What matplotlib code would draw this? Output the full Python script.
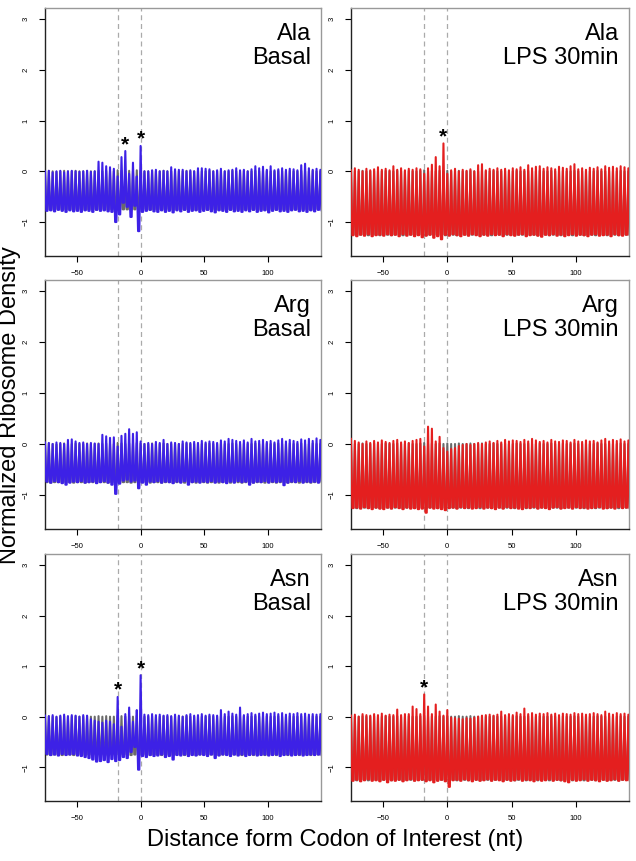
import numpy as np
import matplotlib.pyplot as plt

plt.rcParams['font.family'] = ['Liberation Sans', 'DejaVu Sans']

# first codon position (nt) of every trace, one peak every 3 nt
first_nt = -75

# background (all codons) traces, one for each condition
grey_basal_peaks = [0.00, 0.01, 0.00, -0.01, 0.00, 0.01, 0.00, 0.00, 0.01, 0.00,
                    0.00, 0.01, 0.00, 0.00, 0.01, 0.00, 0.01, 0.00, 0.00, 0.02,
                    0.01, 0.00, 0.01, 0.00, 0.02, 0.01, 0.00, 0.00, 0.01, 0.00,
                    0.00, 0.01, 0.00, 0.00, 0.01, 0.00, 0.00, 0.01, 0.00, 0.00,
                    0.01, 0.00, 0.00, 0.01, 0.00, 0.00, 0.01, 0.00, 0.00, 0.01,
                    0.00, 0.00, 0.01, 0.00, 0.00, 0.01, 0.00, 0.00, 0.01, 0.00,
                    0.00, 0.01, 0.00, 0.00, 0.01, 0.00, 0.00, 0.01, 0.00, 0.00,
                    0.01, 0.00, 0.00]
grey_basal_troughs = [-0.75, -0.76, -0.75, -0.75, -0.76, -0.75, -0.75, -0.76, -0.75, -0.75,
                      -0.76, -0.75, -0.75, -0.76, -0.75, -0.75, -0.76, -0.75, -0.75, -0.76,
                      -0.75, -0.75, -0.76, -0.75, -0.76, -0.75, -0.75, -0.76, -0.75, -0.75,
                      -0.76, -0.75, -0.75, -0.76, -0.75, -0.75, -0.76, -0.75, -0.75, -0.76,
                      -0.75, -0.75, -0.76, -0.75, -0.75, -0.76, -0.75, -0.75, -0.76, -0.75,
                      -0.75, -0.76, -0.75, -0.75, -0.76, -0.75, -0.75, -0.76, -0.75, -0.75,
                      -0.76, -0.75, -0.75, -0.76, -0.75, -0.75, -0.76, -0.75, -0.75, -0.76,
                      -0.75, -0.75, -0.76]
grey_lps_peaks = [0.01, 0.00, 0.00, 0.01, 0.00, 0.00, 0.01, 0.00, 0.00, 0.01,
                  0.00, 0.00, 0.01, 0.00, 0.00, 0.01, 0.00, 0.00, 0.01, 0.02,
                  0.00, 0.01, 0.00, 0.01, 0.00, 0.01, 0.00, 0.00, 0.01, 0.00,
                  0.00, 0.01, 0.00, 0.00, 0.01, 0.00, 0.00, 0.01, 0.00, 0.00,
                  0.01, 0.00, 0.00, 0.01, 0.00, 0.00, 0.01, 0.00, 0.00, 0.01,
                  0.00, 0.00, 0.01, 0.00, 0.00, 0.01, 0.00, 0.00, 0.01, 0.00,
                  0.00, 0.01, 0.00, 0.00, 0.01, 0.00, 0.00, 0.01, 0.00, 0.00,
                  0.01, 0.00, 0.00]
grey_lps_troughs = [-1.25, -1.26, -1.25, -1.25, -1.26, -1.25, -1.25, -1.26, -1.25, -1.25,
                    -1.26, -1.25, -1.25, -1.26, -1.25, -1.25, -1.26, -1.25, -1.25, -1.26,
                    -1.25, -1.25, -1.26, -1.25, -1.26, -1.25, -1.25, -1.26, -1.25, -1.25,
                    -1.26, -1.25, -1.25, -1.26, -1.25, -1.25, -1.26, -1.25, -1.25, -1.26,
                    -1.25, -1.25, -1.26, -1.25, -1.25, -1.26, -1.25, -1.25, -1.26, -1.25,
                    -1.25, -1.26, -1.25, -1.25, -1.26, -1.25, -1.25, -1.26, -1.25, -1.25,
                    -1.26, -1.25, -1.25, -1.26, -1.25, -1.25, -1.26, -1.25, -1.25, -1.26,
                    -1.25, -1.25, -1.26]

# Ala
ala_basal_peaks = [0.00, 0.01, -0.02, 0.00, 0.01, -0.02, 0.00, 0.01, 0.00, -0.01,
                   0.00, 0.01, -0.01, 0.00, 0.19, 0.17, 0.10, 0.08, 0.05, -0.10,
                   0.28, 0.40, -0.05, 0.17, -0.10, 0.50, 0.00, 0.00, 0.02, 0.03,
                   0.00, 0.01, 0.00, 0.08, 0.04, 0.03, 0.03, 0.00, 0.02, 0.00,
                   0.06, 0.06, 0.05, 0.04, 0.00, 0.02, 0.05, 0.00, 0.02, 0.03,
                   0.06, 0.02, 0.03, 0.00, 0.04, 0.10, 0.06, 0.09, 0.03, 0.10,
                   0.02, 0.04, 0.06, 0.03, 0.05, 0.04, 0.02, 0.12, 0.15, 0.06,
                   0.03, 0.05, 0.03]
ala_basal_troughs = [-0.78, -0.77, -0.79, -0.76, -0.78, -0.80, -0.77, -0.79, -0.78, -0.80,
                     -0.77, -0.78, -0.80, -0.76, -0.78, -0.77, -0.79, -0.80, -1.00, -0.85,
                     -0.62, -0.70, -0.90, -0.68, -1.18, -0.80, -0.78, -0.76, -0.79, -0.80,
                     -0.77, -0.80, -0.78, -0.81, -0.77, -0.79, -0.76, -0.80, -0.78, -0.77,
                     -0.80, -0.78, -0.76, -0.79, -0.81, -0.77, -0.78, -0.80, -0.76, -0.79,
                     -0.78, -0.80, -0.77, -0.79, -0.76, -0.80, -0.78, -0.77, -0.81, -0.78,
                     -0.76, -0.79, -0.78, -0.80, -0.77, -0.76, -0.79, -0.78, -0.80, -0.77,
                     -0.79, -0.76, -0.78]
ala_lps_peaks = [0.02, 0.06, 0.03, 0.00, 0.05, 0.02, 0.04, 0.08, 0.03, 0.05,
                 0.02, 0.10, 0.03, 0.06, 0.02, 0.05, 0.03, 0.06, 0.04, -0.05,
                 0.06, 0.13, 0.28, 0.10, 0.55, -0.05, 0.02, 0.05, 0.00, 0.03,
                 0.01, 0.04, 0.00, 0.12, 0.14, 0.02, 0.05, 0.03, 0.06, 0.03,
                 0.05, 0.02, 0.06, 0.04, 0.08, 0.03, 0.12, 0.06, 0.09, 0.10,
                 0.05, 0.08, 0.06, 0.04, 0.09, 0.07, 0.05, 0.10, 0.14, 0.04,
                 0.06, 0.03, 0.07, 0.05, 0.08, 0.04, 0.10, 0.07, 0.09, 0.06,
                 0.10, 0.08, 0.06]
ala_lps_troughs = [-1.26, -1.28, -1.25, -1.27, -1.24, -1.28, -1.26, -1.25, -1.27, -1.24,
                   -1.26, -1.25, -1.28, -1.24, -1.27, -1.25, -1.28, -1.26, -1.30, -1.27,
                   -1.25, -1.31, -1.28, -1.34, -1.25, -1.27, -1.24, -1.26, -1.28, -1.25,
                   -1.27, -1.24, -1.26, -1.28, -1.25, -1.27, -1.24, -1.26, -1.25, -1.28,
                   -1.24, -1.26, -1.27, -1.25, -1.24, -1.28, -1.26, -1.25, -1.27, -1.29,
                   -1.25, -1.26, -1.24, -1.27, -1.25, -1.28, -1.26, -1.24, -1.27, -1.25,
                   -1.26, -1.28, -1.25, -1.24, -1.27, -1.26, -1.25, -1.28, -1.24, -1.26,
                   -1.27, -1.25, -1.26]

# Arg
arg_basal_peaks = [0.03, 0.02, 0.00, 0.03, 0.02, 0.00, 0.08, 0.09, 0.05, 0.02,
                   0.03, 0.00, 0.02, 0.01, 0.00, 0.18, 0.15, 0.12, 0.13, -0.05,
                   0.16, 0.20, 0.29, 0.20, 0.23, 0.05, 0.00, 0.02, 0.00, 0.04,
                   0.02, 0.08, 0.00, 0.03, 0.02, 0.00, 0.05, 0.03, 0.02, 0.04,
                   0.02, 0.06, 0.03, 0.05, 0.04, 0.02, 0.07, 0.05, 0.10, 0.08,
                   0.06, 0.04, 0.07, 0.03, 0.10, 0.05, 0.06, 0.08, 0.04, 0.06,
                   0.03, 0.07, 0.10, 0.05, 0.08, 0.06, 0.04, 0.09, 0.07, 0.10,
                   0.06, 0.11, 0.08]
arg_basal_troughs = [-0.74, -0.76, -0.73, -0.75, -0.77, -0.80, -0.76, -0.74, -0.75, -0.73,
                     -0.76, -0.75, -0.74, -0.77, -0.75, -0.73, -0.76, -0.80, -0.98, -0.78,
                     -0.72, -0.70, -0.74, -0.72, -0.87, -0.76, -0.80, -0.74, -0.75, -0.73,
                     -0.76, -0.74, -0.75, -0.77, -0.74, -0.76, -0.73, -0.80, -0.75, -0.74,
                     -0.76, -0.74, -0.75, -0.73, -0.76, -0.74, -0.75, -0.77, -0.74, -0.76,
                     -0.73, -0.75, -0.74, -0.80, -0.76, -0.74, -0.75, -0.73, -0.76, -0.74,
                     -0.75, -0.74, -0.81, -0.76, -0.74, -0.75, -0.73, -0.76, -0.74, -0.75,
                     -0.74, -0.76, -0.73]
arg_lps_peaks = [0.10, 0.06, 0.03, 0.00, 0.05, 0.02, 0.06, 0.03, 0.07, 0.04,
                 0.02, 0.06, 0.08, 0.03, 0.05, 0.02, 0.06, 0.08, 0.10, -0.05,
                 0.34, 0.30, 0.05, 0.14, -0.08, -0.15, -0.10, -0.08, -0.04, -0.02,
                 0.00, -0.02, 0.00, 0.02, 0.00, 0.03, 0.05, 0.02, 0.06, 0.03,
                 0.08, 0.05, 0.07, 0.06, 0.04, 0.08, 0.05, 0.10, 0.07, 0.04,
                 0.06, 0.03, 0.08, 0.05, 0.04, 0.07, 0.06, 0.03, 0.08, 0.05,
                 0.04, 0.07, 0.05, 0.06, 0.03, 0.07, 0.10, 0.05, 0.08, 0.06,
                 0.09, 0.05, 0.07]
arg_lps_troughs = [-1.26, -1.25, -1.27, -1.24, -1.26, -1.28, -1.25, -1.27, -1.28, -1.25,
                   -1.27, -1.24, -1.26, -1.28, -1.25, -1.27, -1.26, -1.28, -1.27, -1.35,
                   -1.25, -1.27, -1.26, -1.28, -1.30, -1.26, -1.25, -1.27, -1.24, -1.26,
                   -1.25, -1.27, -1.26, -1.24, -1.27, -1.25, -1.26, -1.28, -1.25, -1.27,
                   -1.24, -1.26, -1.25, -1.27, -1.28, -1.25, -1.26, -1.24, -1.27, -1.25,
                   -1.26, -1.28, -1.25, -1.24, -1.27, -1.26, -1.25, -1.27, -1.24, -1.26,
                   -1.25, -1.27, -1.26, -1.25, -1.24, -1.27, -1.26, -1.25, -1.27, -1.24,
                   -1.26, -1.25, -1.27]

# Asn
asn_basal_peaks = [0.02, 0.01, 0.03, 0.00, 0.02, 0.04, 0.01, 0.03, 0.02, 0.00,
                   0.03, 0.02, -0.05, -0.08, -0.10, -0.12, -0.08, -0.10, -0.15, 0.39,
                   -0.20, 0.05, 0.18, -0.10, 0.13, 0.82, 0.04, 0.03, 0.05, 0.03,
                   0.04, 0.02, 0.03, 0.01, 0.04, 0.02, 0.00, 0.03, 0.05, 0.02,
                   0.03, 0.05, 0.02, 0.04, 0.03, 0.02, 0.13, 0.05, 0.10, 0.06,
                   0.04, 0.18, 0.03, 0.05, 0.07, 0.04, 0.06, 0.08, 0.05, 0.06,
                   0.08, 0.05, 0.07, 0.04, 0.06, 0.05, 0.07, 0.05, 0.06, 0.04,
                   0.05, 0.04, 0.05]
asn_basal_troughs = [-0.74, -0.76, -0.75, -0.77, -0.74, -0.76, -0.75, -0.74, -0.77, -0.78,
                     -0.80, -0.82, -0.85, -0.89, -0.88, -0.86, -0.90, -0.84, -0.88, -0.86,
                     -0.80, -0.82, -0.70, -0.60, -1.05, -0.78, -0.80, -0.76, -0.78, -0.77,
                     -0.75, -0.80, -0.78, -0.85, -0.76, -0.77, -0.75, -0.78, -0.76, -0.77,
                     -0.75, -0.76, -0.78, -0.75, -0.82, -0.77, -0.75, -0.76, -0.78, -0.75,
                     -0.77, -0.75, -0.78, -0.76, -0.75, -0.77, -0.76, -0.75, -0.77, -0.76,
                     -0.75, -0.78, -0.76, -0.75, -0.77, -0.76, -0.75, -0.77, -0.76, -0.75,
                     -0.76, -0.75, -0.77]
asn_lps_peaks = [0.02, 0.04, 0.00, 0.05, 0.03, 0.02, 0.05, 0.03, 0.06, 0.02,
                 0.04, 0.03, 0.14, 0.03, 0.05, 0.05, 0.20, 0.15, 0.05, 0.44,
                 0.20, 0.05, 0.24, 0.10, 0.02, 0.13, -0.02, -0.03, -0.04, -0.05,
                 -0.03, -0.04, -0.02, 0.00, 0.02, 0.03, 0.04, 0.02, 0.04, 0.10,
                 0.03, 0.05, 0.03, 0.08, 0.05, 0.16, 0.05, 0.07, 0.04, 0.06,
                 0.05, 0.07, 0.04, 0.06, 0.03, 0.06, 0.05, 0.04, 0.07, 0.05,
                 0.06, 0.04, 0.05, 0.07, 0.05, 0.03, 0.10, 0.06, 0.04, 0.07,
                 0.05, 0.06, 0.04]
asn_lps_troughs = [-1.27, -1.25, -1.28, -1.26, -1.24, -1.27, -1.26, -1.28, -1.25, -1.30,
                   -1.26, -1.27, -1.25, -1.28, -1.26, -1.24, -1.27, -1.26, -1.25, -1.28,
                   -1.26, -1.30, -1.27, -1.25, -1.28, -1.39, -1.26, -1.25, -1.27, -1.24,
                   -1.26, -1.28, -1.25, -1.27, -1.26, -1.24, -1.27, -1.25, -1.26, -1.28,
                   -1.25, -1.27, -1.26, -1.24, -1.27, -1.25, -1.26, -1.28, -1.25, -1.27,
                   -1.26, -1.24, -1.27, -1.25, -1.26, -1.28, -1.30, -1.25, -1.27, -1.26,
                   -1.24, -1.27, -1.25, -1.26, -1.28, -1.25, -1.27, -1.26, -1.24, -1.27,
                   -1.25, -1.26, -1.27]

# starred peaks (nt position)
ala_basal_stars = [-12, 0]
ala_lps_stars = [-3]
asn_basal_stars = [-18, 0]
asn_lps_stars = [-18]

amino_acids = ['Ala', 'Arg', 'Asn']
conditions = ['Basal', 'LPS 30min']
x_ticks = [-50, 0, 50, 100]
y_ticks = [-1, 0, 1, 2, 3]
site_lines = [-18, 0]

panels = {
    ('Ala', 'Basal'): (ala_basal_peaks, ala_basal_troughs, ala_basal_stars),
    ('Ala', 'LPS 30min'): (ala_lps_peaks, ala_lps_troughs, ala_lps_stars),
    ('Arg', 'Basal'): (arg_basal_peaks, arg_basal_troughs, []),
    ('Arg', 'LPS 30min'): (arg_lps_peaks, arg_lps_troughs, []),
    ('Asn', 'Basal'): (asn_basal_peaks, asn_basal_troughs, asn_basal_stars),
    ('Asn', 'LPS 30min'): (asn_lps_peaks, asn_lps_troughs, asn_lps_stars),
}
background = {
    'Basal': (grey_basal_peaks, grey_basal_troughs),
    'LPS 30min': (grey_lps_peaks, grey_lps_troughs),
}
colors = {'Basal': '#3d21e6', 'LPS 30min': '#e41f1f'}


def codon_trace(peaks, troughs):
    # peak on the first nt of each codon, trough on the other two
    xs, ys = [], []
    for i, (p, t) in enumerate(zip(peaks, troughs)):
        s = first_nt + 3 * i
        xs += [s, s + 1, s + 2]
        ys += [p, t, t]
    return xs, ys


fig = plt.figure(figsize=(6.36, 8.61), dpi=100)
W, H = 636, 861
col_px = [(45, 321), (351, 629)]
row_px = [(8, 256), (280, 529), (554, 801)]

for r, aa in enumerate(amino_acids):
    for c, cond in enumerate(conditions):
        x0, x1 = col_px[c]
        y0, y1 = row_px[r]
        ax = fig.add_axes([x0 / W, 1 - y1 / H, (x1 - x0) / W, (y1 - y0) / H])
        peaks, troughs, stars = panels[(aa, cond)]

        for v in site_lines:
            ax.axvline(v, color='#aaaaaa', linestyle=(0, (4, 3)), linewidth=0.9, zorder=1)

        gx, gy = codon_trace(*background[cond])
        ax.plot(gx, gy, color='#6a6a6a', linewidth=1.5, zorder=2)
        tx, ty = codon_trace(peaks, troughs)
        ax.plot(tx, ty, color=colors[cond], linewidth=1.5, zorder=3)

        for s in stars:
            pk = peaks[(s - first_nt) // 3]
            ax.text(s, pk + 0.13, '*', ha='center', va='center', fontsize=15,
                    fontweight='bold', color='black', zorder=4)

        ax.text(0.963, 0.94, f'{aa}\n{cond}', transform=ax.transAxes,
                ha='right', va='top', fontsize=17, linespacing=1.15)

        ax.set_xlim(-75, 141.5)
        ax.set_ylim(-1.67, 3.22)
        ax.set_xticks(x_ticks)
        ax.set_yticks(y_ticks)
        ax.tick_params(axis='both', labelsize=5.5, length=4, width=0.8,
                       direction='out')
        ax.tick_params(axis='x', pad=6)
        ax.tick_params(axis='y', pad=7)
        for lab in ax.get_yticklabels():
            lab.set_rotation(90)
            lab.set_va('center')
        ax.spines['left'].set_color('#222222')
        ax.spines['bottom'].set_color('#222222')
        ax.spines['top'].set_color('#999999')
        ax.spines['right'].set_color('#999999')
        for sp in ax.spines.values():
            sp.set_linewidth(1.0)

fig.text(0.016, 0.530, 'Normalized Ribosome Density', rotation=90,
         ha='center', va='center', fontsize=17)
fig.text(0.527, 0.024, 'Distance form Codon of Interest (nt)',
         ha='center', va='center', fontsize=17)

fig.savefig('out.png', dpi=100)
